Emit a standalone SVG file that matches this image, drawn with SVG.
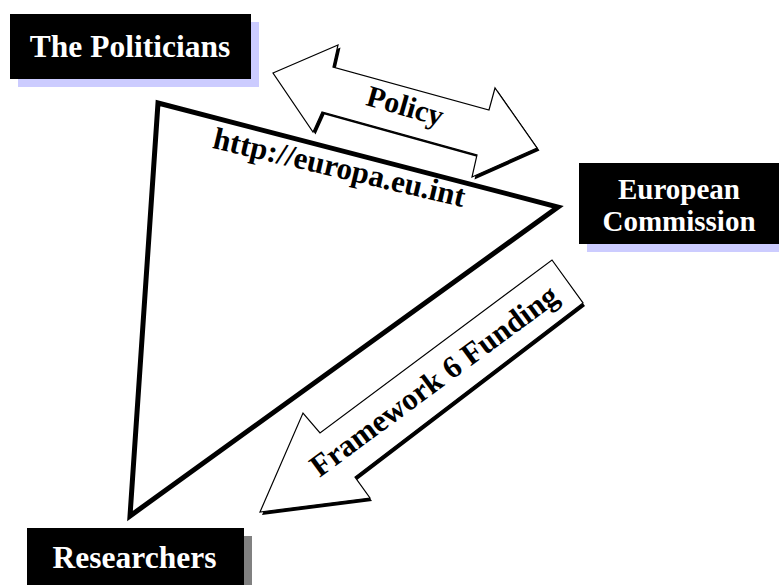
<svg xmlns="http://www.w3.org/2000/svg" width="779" height="585" viewBox="0 0 779 585">
<style>
.lbl{font-family:"Liberation Serif","Times New Roman",serif;font-weight:bold;fill:#ffffff;text-anchor:middle}
.atx{font-family:"Liberation Serif","Times New Roman",serif;font-weight:bold;fill:#000000;text-anchor:middle}
.box{fill:#000000}
.arrow{fill:#ffffff;stroke:#000000;stroke-width:1.2;stroke-linejoin:miter}
.shadow{fill:#000000}
</style>
<rect width="779" height="585" fill="#ffffff"/>
<g id="connectors">
  <polygon id="triangle" points="158,103 558,207 130,516" fill="none" stroke="#000000" stroke-width="5" stroke-linejoin="miter"/>
  <g id="policy-arrow">
    <polygon class="shadow" transform="translate(2.5,2.5)" points="273,73 338,45 333,67 489,110 495,88 537,148 472,177 477,155 322,112 313,132"/>
    <polygon class="arrow" points="273,73 338,45 333,67 489,110 495,88 537,148 472,177 477,155 322,112 313,132"/>
    <text class="atx" font-size="30" transform="translate(402.5,115.5) rotate(16)">Policy</text>
  </g>
  <g id="funding-arrow">
    <polygon class="shadow" transform="translate(2,3)" points="552,260 583,303 355,477 370,498 260,512 303,413 320,433"/>
    <polygon class="arrow" points="552,260 583,303 355,477 370,498 260,512 303,413 320,433"/>
    <text class="atx" font-size="31" transform="translate(440,389) rotate(-36.4)">Framework 6 Funding</text>
  </g>
  <text id="url" class="atx" font-size="31" transform="translate(337,177.5) rotate(13.3)">http://europa.eu.int</text>
</g>
<g id="politicians">
  <rect x="18" y="22" width="241" height="65" fill="#ccccff"/>
  <rect class="box" x="10" y="14" width="241" height="65"/>
  <text class="lbl" x="130" y="57" font-size="31.5">The Politicians</text>
</g>
<g id="commission">
  <rect x="587" y="171" width="200" height="81" fill="#ccccff"/>
  <rect class="box" x="579" y="163" width="205" height="81"/>
  <text class="lbl" x="679" y="199" font-size="29">European</text>
  <text class="lbl" x="679" y="231" font-size="29">Commission</text>
</g>
<g id="researchers">
  <rect x="35" y="536" width="217" height="60" fill="#808080"/>
  <rect class="box" x="27" y="528" width="217" height="60"/>
  <text class="lbl" x="134.5" y="568" font-size="31.5">Researchers</text>
</g>
</svg>
